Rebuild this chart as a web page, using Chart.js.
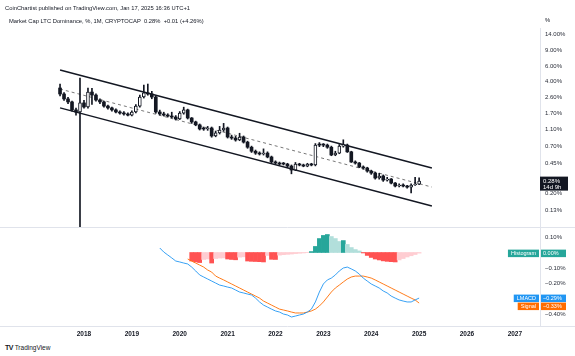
<!DOCTYPE html>
<html><head><meta charset="utf-8">
<script src="https://cdn.jsdelivr.net/npm/chart.js@4.4.1/dist/chart.umd.min.js"></script>
<style>
html,body{margin:0;padding:0;background:#fff;width:575px;height:356px;overflow:hidden;font-family:"Liberation Sans",Arial,sans-serif;color:#131722}
canvas{position:absolute;left:0}
#c1{top:0}
#c2{top:228px}
.t{position:absolute;white-space:nowrap;font-size:5.8px;line-height:8px}
</style></head><body>
<canvas id="c1" width="575" height="228" style="width:575px;height:228px"></canvas>
<canvas id="c2" width="575" height="115" style="width:575px;height:115px"></canvas>
<div class="t" style="left:5px;top:4px">CoinChartist published on TradingView.com, Jan 17, 2025 16:36 UTC+1</div>
<div class="t" style="left:9px;top:17px">Market Cap LTC Dominance, %, 1M, CRYPTOCAP&nbsp;&nbsp;0.28%&nbsp;&nbsp;+0.01 (+4.26%)</div>
<div class="t" style="left:545px;top:16px">%</div>
<div class="t" style="left:5px;top:344px;font-size:6.5px"><b style="font-size:7px;letter-spacing:-0.5px">TV</b> TradingView</div>
<script>
// Monthly candles, index 0 = Jul 2017
const years = ['2018','2019','2020','2021','2022','2023','2024','2025','2026','2027'];
const firstYearIndex = 6; // Jan 2018 is month index 6
const opens = [3.33,2.84,2.49,2.30,1.86,1.76,2.24,2.01,2.99,2.76,
2.42,2.30,2.06,1.96,1.86,1.76,1.71,1.67,1.62,1.76,
2.06,2.62,2.92,2.84,2.62,1.76,1.67,1.62,1.58,1.54,
1.46,1.71,1.86,1.50,1.35,1.25,1.12,1.12,1.15,0.93,
1.01,1.09,1.15,0.905,0.88,0.836,0.905,0.79,0.69,0.62,
0.59,0.576,0.59,0.532,0.466,0.453,0.441,0.441,0.418,0.376,
0.441,0.43,0.418,0.441,0.43,0.73,0.73,0.73,0.69,0.561,
0.59,0.71,0.73,0.61,0.466,0.453,0.408,0.397,0.366,0.347,
0.304,0.321,0.288,0.296,0.266,0.246,0.2525,0.246,0.239,0.2525,
0.259];
const highs = [3.70,2.95,2.60,2.35,1.95,4.35,2.40,3.33,3.30,2.85,
2.50,2.35,2.12,2.00,1.92,1.82,1.78,1.72,1.82,2.15,
2.75,3.60,3.70,3.05,2.70,1.85,1.75,1.68,1.75,1.60,
1.78,2.00,1.90,1.52,1.38,1.28,1.18,1.20,1.18,1.06,
1.20,1.30,1.18,0.95,0.92,1.00,0.93,0.81,0.71,0.64,
0.61,0.66,0.61,0.545,0.48,0.465,0.46,0.45,0.43,0.46,
0.45,0.44,0.45,0.45,0.76,0.78,0.76,0.75,0.71,0.62,
0.74,0.84,0.75,0.62,0.48,0.46,0.42,0.405,0.375,0.355,
0.345,0.33,0.31,0.30,0.27,0.26,0.26,0.25,0.26,0.31,
0.305];
const lows = [2.70,2.40,2.20,1.80,1.62,0.01,1.95,1.95,2.15,2.35,
2.20,2.00,1.90,1.80,1.72,1.66,1.62,1.58,1.58,1.72,
2.00,2.55,2.75,2.50,1.70,1.62,1.58,1.54,1.50,1.42,
1.44,1.66,1.46,1.30,1.22,1.09,1.08,1.08,0.90,0.91,
0.98,1.05,0.88,0.85,0.81,0.82,0.77,0.67,0.60,0.57,
0.56,0.56,0.52,0.455,0.44,0.43,0.43,0.40,0.34,0.37,
0.42,0.41,0.41,0.42,0.42,0.70,0.70,0.67,0.55,0.55,
0.58,0.69,0.60,0.46,0.44,0.40,0.385,0.355,0.335,0.295,
0.295,0.278,0.28,0.26,0.24,0.24,0.24,0.232,0.204,0.25,
0.255];
const closes = [2.84,2.49,2.30,1.86,1.76,2.24,2.01,2.99,2.76,2.42,
2.30,2.06,1.96,1.86,1.76,1.71,1.67,1.62,1.76,2.06,
2.62,2.92,2.84,2.62,1.76,1.67,1.62,1.58,1.54,1.46,
1.71,1.86,1.50,1.35,1.25,1.12,1.12,1.15,0.93,1.01,
1.09,1.15,0.905,0.88,0.836,0.905,0.79,0.69,0.62,0.59,
0.576,0.59,0.532,0.466,0.453,0.441,0.441,0.418,0.376,0.441,
0.43,0.418,0.441,0.43,0.73,0.73,0.73,0.69,0.561,0.59,
0.71,0.73,0.61,0.466,0.453,0.408,0.397,0.366,0.347,0.304,
0.321,0.288,0.296,0.266,0.246,0.2525,0.246,0.239,0.2525,0.259,
0.28];
// descending channel (month index, value %)
const channelUpper = [[0,5.37],[93.2,0.397]];
const channelMid = [[0,3.24],[93.2,0.239]];
const channelLower = [[0,1.96],[93.2,0.1445]];
const priceTicks = [14,9,6,4,2.6,1.7,1.1,0.7,0.45,0.2,0.13];
// LMACD pane (values in %)
const macdStart = 25;
const macd = [0.029,0.003,-0.016,-0.035,-0.055,-0.061,-0.068,-0.074,-0.094,-0.119,
-0.145,-0.158,-0.171,-0.184,-0.197,-0.210,-0.216,-0.223,-0.229,-0.242,
-0.255,-0.261,-0.268,-0.274,-0.294,-0.319,-0.339,-0.352,-0.365,-0.377,
-0.384,-0.397,-0.403,-0.416,-0.410,-0.403,-0.397,-0.384,-0.365,-0.319,
-0.255,-0.203,-0.177,-0.165,-0.145,-0.119,-0.100,-0.094,-0.106,-0.119,
-0.139,-0.165,-0.184,-0.203,-0.216,-0.229,-0.248,-0.261,-0.281,-0.294,
-0.306,-0.313,-0.319,-0.319,-0.306,-0.294];
const signalStart = 32;
const signal = [-0.042,-0.055,-0.068,-0.081,-0.094,-0.113,-0.126,-0.152,-0.165,-0.177,
-0.190,-0.203,-0.216,-0.229,-0.242,-0.255,-0.268,-0.281,-0.294,-0.313,
-0.326,-0.339,-0.352,-0.365,-0.371,-0.377,-0.384,-0.390,-0.390,-0.390,
-0.384,-0.377,-0.365,-0.345,-0.319,-0.287,-0.255,-0.229,-0.210,-0.190,
-0.171,-0.158,-0.152,-0.152,-0.152,-0.158,-0.165,-0.177,-0.190,-0.203,
-0.216,-0.229,-0.242,-0.255,-0.268,-0.281,-0.294,-0.306,-0.326];
const histStart = 33;
const hist = [-0.055,-0.061,-0.065,-0.045,-0.042,-0.068,-0.039,-0.036,-0.035,-0.042,
-0.045,-0.047,-0.030,-0.028,-0.055,-0.057,-0.058,-0.059,-0.061,-0.019,
-0.044,-0.045,-0.017,-0.014,-0.012,-0.010,-0.007,-0.005,-0.003,-0.001,
0.006,0.039,0.090,0.110,0.116,0.103,0.090,0.071,0.077,0.052,
0.032,0.019,0.010,-0.003,-0.019,-0.032,-0.042,-0.048,-0.054,-0.057,
-0.059,-0.061,-0.048,-0.039,-0.029,-0.021,-0.013,-0.004];
const macdTicks = [0.1,-0.1,-0.2,-0.4];
const lastPriceLabel = '0.28%';
const countdown = '14d 9h';

Chart.defaults.font.family = '"Liberation Sans", Arial, sans-serif';
Chart.defaults.color = '#131722';
const FONT = '"Liberation Sans", Arial, sans-serif';
const XMIN = -15.05, XMAX = 120.3, AXW = 35;

const noPad = s => { s.paddingTop = 0; s.paddingBottom = 0; s.paddingLeft = 0; s.paddingRight = 0; };

const wickData = highs.map((h,i)=>({x:i, y:[lows[i], h]}));
const bodyData = closes.map((c,i)=>({x:i, y:[opens[i], c]}));
const up = i => closes[i] > opens[i];

const priceBox = {
  id:'priceBox',
  afterDraw(chart){
    const {ctx, chartArea, scales:{y}} = chart;
    const py = y.getPixelForValue(closes[closes.length-1]);
    ctx.save();
    ctx.fillStyle = '#131722';
    ctx.fillRect(chartArea.right, py-4.5, 28, 14);
    ctx.fillStyle = '#fff';
    ctx.font = '6px '+FONT;
    ctx.textBaseline = 'middle'; ctx.textAlign = 'left';
    ctx.fillText(lastPriceLabel, chartArea.right+3, py+0.5);
    ctx.fillText(countdown, chartArea.right+3, py+6.5);
    ctx.strokeStyle = '#e0e3eb'; ctx.lineWidth = 1;
    ctx.beginPath(); ctx.moveTo(0, 227.5); ctx.lineTo(575, 227.5); ctx.stroke();
    ctx.restore();
  }
};

new Chart(document.getElementById('c1'), {
  type:'bar',
  data:{datasets:[
    {type:'line', data:channelUpper.map(p=>({x:p[0],y:p[1]})), borderColor:'#131722', borderWidth:1.4, pointRadius:0, order:5},
    {type:'line', data:channelLower.map(p=>({x:p[0],y:p[1]})), borderColor:'#131722', borderWidth:1.4, pointRadius:0, order:5},
    {type:'line', data:channelMid.map(p=>({x:p[0],y:p[1]})), borderColor:'#555', borderWidth:0.8, borderDash:[3,3], pointRadius:0, order:5},
    {data:wickData, backgroundColor:'#131722', barThickness:1, grouped:false, order:3},
    {data:bodyData, grouped:false, barThickness:3, minBarLength:1, order:1,
     backgroundColor:ctx=>up(ctx.dataIndex)?'#ffffff':'#131722',
     borderColor:'#131722', borderWidth:ctx=>up(ctx.dataIndex)?1:0, borderSkipped:false}
  ]},
  options:{
    responsive:false, animation:false, devicePixelRatio:1,
    layout:{autoPadding:false, padding:{top:28,left:0,right:0,bottom:0}},
    plugins:{legend:{display:false}, tooltip:{enabled:false}},
    scales:{
      x:{type:'linear', min:XMIN, max:XMAX, offset:false, display:false},
      y:{type:'logarithmic', position:'right', min:0.0805, max:16.42,
        afterFit(s){ s.width = AXW; noPad(s); },
        afterBuildTicks(s){ s.ticks = priceTicks.map(v=>({value:v})); },
        ticks:{callback:v=>Number(v).toFixed(2)+'%', font:{size:6}, color:'#2a2e39', padding:5, autoSkip:false},
        grid:{display:false, drawTicks:false},
        border:{display:true, color:'#e0e3eb'}
      }
    }
  },
  plugins:[priceBox]
});

const histColors = hist.map((h,k)=>{
  const prev = k>0 ? hist[k-1] : 0;
  if (h >= 0) return h > prev ? '#26a69a' : '#b2dfdb';
  return h < prev ? '#ff5252' : '#ffcdd2';
});

const macdLabels = {
  id:'macdLabels',
  afterDraw(chart){
    const {ctx, chartArea, scales:{y}} = chart;
    const R = chartArea.right;
    const items = [
      {name:'Histogram', v:hist[hist.length-1], c:'#26a69a'},
      {name:'LMACD', v:macd[macd.length-1], c:'#2196f3'},
      {name:'Signal', v:signal[signal.length-1], c:'#ff6d00'}
    ];
    items.forEach(it=>it.py = y.getPixelForValue(it.v));
    for (let k=1;k<items.length;k++){ if (items[k].py - items[k-1].py < 8) items[k].py = items[k-1].py + 8; }
    ctx.save();
    ctx.font = '5.5px '+FONT;
    ctx.textBaseline = 'middle';
    items.forEach(it=>{
      let txt = Math.abs(it.v) < 0.005 ? '0.00%' : (it.v<0?'\u2212':'')+Math.abs(it.v).toFixed(2)+'%';
      const w = ctx.measureText(it.name).width + 6;
      ctx.fillStyle = it.c;
      ctx.fillRect(R-1-w, it.py-3.5, w, 7.5);
      ctx.fillRect(R+1, it.py-3.5, 25, 7.5);
      ctx.fillStyle = '#fff';
      ctx.textAlign = 'left';
      ctx.fillText(it.name, R-1-w+3, it.py+0.3);
      ctx.fillText(txt, R+3, it.py+0.3);
    });
    ctx.strokeStyle = '#e0e3eb'; ctx.lineWidth = 1;
    ctx.beginPath(); ctx.moveTo(0, chartArea.bottom+0.5); ctx.lineTo(575, chartArea.bottom+0.5); ctx.stroke();
    ctx.restore();
  }
};

new Chart(document.getElementById('c2'), {
  type:'bar',
  data:{datasets:[
    {data:hist.map((h,k)=>({x:histStart+k, y:h})), backgroundColor:histColors, barThickness:4, grouped:false, order:3},
    {type:'line', data:signal.map((v,k)=>({x:signalStart+k, y:v})), borderColor:'#ff6d00', borderWidth:0.9, pointRadius:0, order:2},
    {type:'line', data:macd.map((v,k)=>({x:macdStart+k, y:v})), borderColor:'#2196f3', borderWidth:0.9, pointRadius:0, order:1}
  ]},
  options:{
    responsive:false, animation:false, devicePixelRatio:1,
    layout:{autoPadding:false, padding:0},
    plugins:{legend:{display:false}, tooltip:{enabled:false}},
    scales:{
      x:{type:'linear', min:XMIN, max:XMAX, offset:false, position:'bottom',
        afterFit(s){ s.height = 17; noPad(s); },
        afterBuildTicks(s){ s.ticks = years.map((y,k)=>({value:firstYearIndex+12*k})); },
        ticks:{callback:v=>years[Math.round((v-firstYearIndex)/12)], font:{size:6.5, weight:'bold'}, color:'#131722', padding:4, autoSkip:false, maxRotation:0},
        grid:{display:false, drawTicks:false, offset:false},
        border:{display:false}
      },
      y:{type:'linear', position:'right', min:-0.474, max:0.158,
        afterFit(s){ s.width = AXW; noPad(s); },
        afterBuildTicks(s){ s.ticks = macdTicks.map(v=>({value:v})); },
        ticks:{callback:v=>(v<0?'\u2212':'')+Math.abs(v).toFixed(2)+'%', font:{size:6}, color:'#2a2e39', padding:5, autoSkip:false},
        grid:{display:false, drawTicks:false},
        border:{display:true, color:'#e0e3eb'}
      }
    }
  },
  plugins:[macdLabels]
});
</script>
</body></html>
